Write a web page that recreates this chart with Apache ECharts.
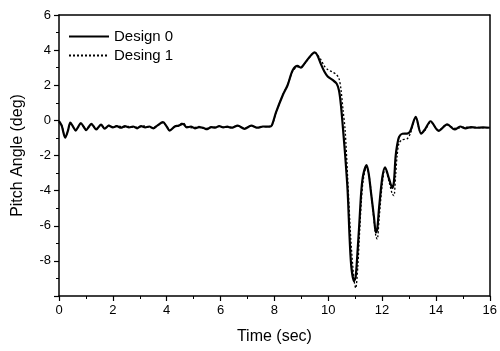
<!DOCTYPE html>
<html>
<head>
<meta charset="utf-8">
<script src="https://cdn.jsdelivr.net/npm/echarts@6/dist/echarts.min.js"></script>
<style>
html,body{margin:0;padding:0;background:#fff;}
#chart{width:500px;height:351px;}
</style>
</head>
<body>
<div id="chart"></div>
<script>
const seriesNames = ['Design 0', 'Desing 1'];
const timeSec = [
  0.00,0.10,0.23,0.33,0.42,0.52,0.62,0.72,0.81,0.91,
  1.01,1.10,1.20,1.29,1.38,1.47,1.56,1.70,1.85,2.00,
  2.15,2.30,2.45,2.60,2.75,2.90,3.05,3.20,3.35,3.50,
  3.65,3.86,4.00,4.11,4.30,4.45,4.60,4.75,4.90,5.05,
  5.20,5.35,5.50,5.65,5.80,5.95,6.10,6.25,6.40,6.64,
  6.89,7.14,7.38,7.57,7.81,7.90,8.06,8.31,8.49,8.68,
  8.86,8.99,9.11,9.30,9.50,9.60,9.73,9.85,9.98,10.16,
  10.31,10.40,10.47,10.55,10.63,10.72,10.84,10.96,11.02,11.10,
  11.15,11.23,11.30,11.42,11.50,11.58,11.70,11.77,11.82,11.89,
  12.01,12.11,12.26,12.38,12.44,12.50,12.56,12.63,12.75,12.93,
  13.05,13.25,13.45,13.60,13.80,14.10,14.42,14.70,14.90,15.10,
  15.30,15.50,15.75,16.00
];
const design0 = [
  -0.05,-0.30,-0.98,-0.60,-0.12,-0.35,-0.58,-0.35,-0.15,-0.35,
  -0.55,-0.38,-0.20,-0.35,-0.52,-0.38,-0.24,-0.47,-0.30,-0.40,
  -0.33,-0.42,-0.33,-0.40,-0.35,-0.45,-0.33,-0.40,-0.35,-0.45,
  -0.30,-0.10,-0.35,-0.58,-0.35,-0.30,-0.20,-0.40,-0.35,-0.45,
  -0.38,-0.42,-0.50,-0.38,-0.42,-0.32,-0.40,-0.36,-0.42,-0.30,
  -0.48,-0.30,-0.42,-0.35,-0.36,-0.30,0.45,1.43,2.00,2.85,
  3.10,3.00,3.22,3.60,3.87,3.70,3.20,2.80,2.50,2.30,
  2.10,1.70,0.90,-0.50,-2.00,-4.00,-8.00,-9.15,-8.90,-7.20,
  -6.00,-4.00,-3.10,-2.55,-3.00,-4.00,-5.52,-6.38,-6.20,-4.95,
  -3.24,-2.67,-3.33,-3.85,-3.50,-2.10,-1.40,-0.95,-0.76,-0.75,
  -0.60,0.20,-0.76,-0.50,-0.05,-0.60,-0.23,-0.52,-0.35,-0.45,
  -0.38,-0.42,-0.40,-0.42
];
const design1 = [
  -0.05,-0.28,-0.95,-0.62,-0.15,-0.33,-0.55,-0.36,-0.18,-0.33,
  -0.52,-0.40,-0.22,-0.33,-0.50,-0.40,-0.25,-0.45,-0.28,-0.38,
  -0.30,-0.35,-0.38,-0.35,-0.40,-0.38,-0.35,-0.32,-0.40,-0.42,
  -0.30,-0.12,-0.35,-0.55,-0.38,-0.28,-0.15,-0.35,-0.42,-0.40,
  -0.35,-0.45,-0.45,-0.40,-0.38,-0.35,-0.38,-0.40,-0.38,-0.32,
  -0.45,-0.32,-0.40,-0.36,-0.35,-0.32,0.42,1.45,2.02,2.80,
  3.05,3.05,3.20,3.58,3.85,3.72,3.45,3.10,2.90,2.75,
  2.60,2.38,1.80,0.60,-0.60,-3.20,-6.80,-9.10,-9.55,-8.30,
  -6.80,-4.60,-3.40,-2.65,-3.00,-3.90,-5.70,-6.60,-6.76,-5.60,
  -3.60,-2.75,-3.50,-4.20,-4.29,-3.20,-2.00,-1.30,-1.10,-1.05,
  -0.75,0.15,-0.72,-0.55,-0.10,-0.55,-0.25,-0.45,-0.42,-0.38,
  -0.42,-0.40,-0.42,-0.40
];
const xMin = 0, xMax = 16, xStep = 2;
const yMin = -10, yMax = 6, yStep = 2;
const hiddenYLabels = [-10];

const FONT = '"Liberation Sans", Arial, sans-serif';
const chart = echarts.init(document.getElementById('chart'), null, {renderer: 'canvas'});
const axisLineStyle = {color: '#000', width: 1.5};
const option = {
  backgroundColor: '#fff',
  animation: false,
  grid: {left: 59, right: 9, top: 15, bottom: 55},
  legend: {
    orient: 'vertical',
    left: 63,
    top: 24,
    itemWidth: 40,
    itemHeight: 14,
    itemGap: 4,
    itemStyle: {opacity: 0},
    textStyle: {fontFamily: FONT, fontSize: 15, color: '#000'},
    data: seriesNames
  },
  xAxis: [{
    type: 'value', min: xMin, max: xMax, interval: xStep,
    name: 'Time (sec)', nameLocation: 'middle', nameGap: 33,
    nameTextStyle: {fontFamily: FONT, fontSize: 16, color: '#000'},
    axisLine: {show: true, lineStyle: axisLineStyle, onZero: false},
    axisTick: {show: true, inside: false, length: 5, lineStyle: {color: '#000', width: 1.2}},
    minorTick: {show: true, splitNumber: 2, length: 3, lineStyle: {color: '#000', width: 1}},
    axisLabel: {fontFamily: FONT, fontSize: 13, color: '#000', margin: 8},
    splitLine: {show: false}
  }, {
    type: 'value', min: xMin, max: xMax, position: 'top',
    axisLine: {show: true, lineStyle: axisLineStyle, onZero: false},
    axisTick: {show: false}, axisLabel: {show: false}, splitLine: {show: false}
  }],
  yAxis: [{
    type: 'value', min: yMin, max: yMax, interval: yStep,
    name: 'Pitch Angle (deg)', nameLocation: 'middle', nameGap: 33,
    nameTextStyle: {fontFamily: FONT, fontSize: 16, color: '#000'},
    axisLine: {show: true, lineStyle: axisLineStyle, onZero: false},
    axisTick: {show: true, inside: false, length: 5, lineStyle: {color: '#000', width: 1.2}},
    minorTick: {show: true, splitNumber: 2, length: 3, lineStyle: {color: '#000', width: 1}},
    axisLabel: {
      fontFamily: FONT, fontSize: 13, color: '#000', margin: 8,
      formatter: v => hiddenYLabels.includes(v) ? '' : String(v)
    },
    splitLine: {show: false}
  }, {
    type: 'value', min: yMin, max: yMax, position: 'right',
    axisLine: {show: true, lineStyle: axisLineStyle, onZero: false},
    axisTick: {show: false}, axisLabel: {show: false}, splitLine: {show: false}
  }],
  series: [{
    name: seriesNames[0], type: 'line', symbol: 'none', smooth: 0.3,
    lineStyle: {color: '#000', width: 2.2, type: 'solid'},
    itemStyle: {color: '#000'},
    data: timeSec.map((t, i) => [t, design0[i]]),
    z: 3
  }, {
    name: seriesNames[1], type: 'line', symbol: 'none', smooth: 0.3,
    lineStyle: {color: '#000', width: 1.3, type: [2, 2]},
    itemStyle: {color: '#000'},
    data: timeSec.map((t, i) => [t, design1[i]]),
    z: 2
  }]
};
chart.setOption(option);
</script>
</body>
</html>
